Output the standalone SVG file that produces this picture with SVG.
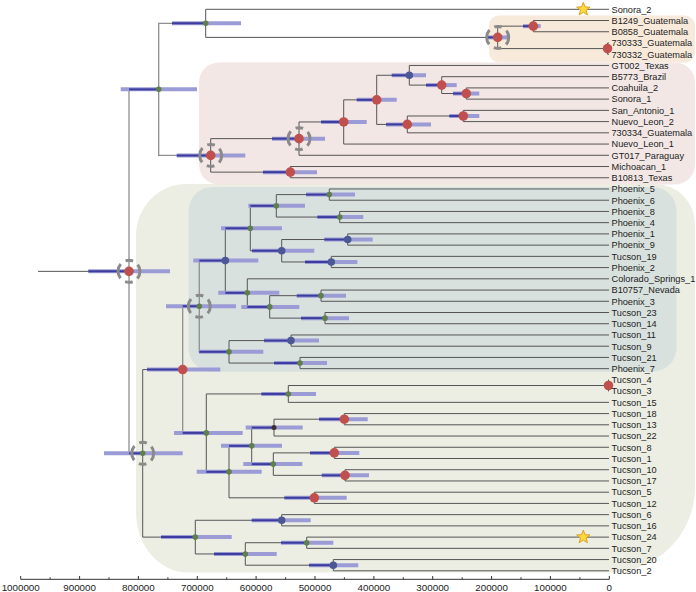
<svg xmlns="http://www.w3.org/2000/svg" width="696" height="592" viewBox="0 0 696 592">
<style>
.br{fill:none;stroke:#555;stroke-width:1}
.brl{fill:none;stroke:#8f8f8f;stroke-width:1.3}
.hl{fill:none;stroke:#9b9bd6;stroke-width:4}
.hd{fill:none;stroke:#3c3c9e;stroke-width:2}
.nr{fill:#c0504d}
.ng{fill:#5f7f4b}
.nb{fill:#4c5896}
.nd{fill:#3b2f2f}
.dc{fill:none;stroke:#8a8a8a;stroke-width:3;stroke-dasharray:15.36 5.76 7.68 5.76;stroke-dashoffset:7.68}
text{font-family:"Liberation Sans",Arial,sans-serif;font-size:9.2px;fill:#1c1c1c}
.ax{font-size:9.8px;text-anchor:middle}
.star{fill:#ffd93a;stroke:#d89a1c;stroke-width:0.9}
</style>
<defs>
<polygon id="star" points="0,-7 1.76,-2.43 6.66,-2.16 2.85,0.93 4.11,5.66 0,3 -4.11,5.66 -2.85,0.93 -6.66,-2.16 -1.76,-2.43"/>
</defs>
<rect width="696" height="592" fill="#ffffff"/>
<g id="clades">
<path id="clade-green" fill="#eceee3" d="M186,184H655A40,40 0 0 1 695,224V487.5A85,85 0 0 1 610,572.5H188A52,60 0 0 1 136,512.5V236A50,52 0 0 1 186,184Z"/>
<rect id="clade-phoenix" x="188.5" y="187" width="488" height="184.7" rx="24" fill="#d9e1de"/>
<rect id="clade-pink" x="199" y="62.5" width="496" height="122" rx="20" fill="#f2e7e5"/>
<rect id="clade-orange" x="489" y="15.5" width="206" height="47" rx="10" fill="#f8eadb"/>
</g>
<g id="connectors">
<path class="br" d="M38,271.35H129"/>
<path class="brl" d="M158.7,89.36H129V453.34H142.7"/>
<path class="brl" d="M205.7,23.34H158.7V155.38H210.7"/>
<path class="brl" d="M199.3,306.2H182.7V432.89H206.3"/>
<path class="brl" d="M225.3,260.58H199.3V351.82H229"/>
<path class="br" d="M609,9.3H205.7V37.38H497.7"/>
<path class="br" d="M533.3,26.15H497.7V48.6H607.5"/>
<path class="br" d="M609,20.53H533.3V31.76H609"/>
<path class="br" d="M609,42.99H607.5V54.22H609"/>
<path class="br" d="M299,138.63H210.7V172.14H290.3"/>
<path class="br" d="M343.7,121.96H299V155.29H609"/>
<path class="br" d="M376.7,99.85H343.7V144.06H609"/>
<path class="br" d="M409.3,75.28H376.7V124.41H407.3"/>
<path class="br" d="M609,65.45H409.3V85.1H441.7"/>
<path class="br" d="M609,76.68H441.7V93.53H466.3"/>
<path class="br" d="M609,87.91H466.3V99.14H609"/>
<path class="br" d="M463.3,115.99H407.3V132.83H609"/>
<path class="br" d="M609,110.37H463.3V121.6H609"/>
<path class="br" d="M609,166.52H290.3V177.75H609"/>
<path class="br" d="M182.7,369.55H142.7V537.12H195.3"/>
<path class="br" d="M250.3,228.29H225.3V292.86H247.3"/>
<path class="br" d="M276.3,205.83H250.3V250.75H281.7"/>
<path class="br" d="M329.3,194.6H276.3V217.06H339.7"/>
<path class="br" d="M609,188.98H329.3V200.21H609"/>
<path class="br" d="M609,211.44H339.7V222.67H609"/>
<path class="br" d="M347.7,239.52H281.7V261.98H331.3"/>
<path class="br" d="M609,233.9H347.7V245.13H609"/>
<path class="br" d="M609,256.36H331.3V267.59H609"/>
<path class="br" d="M609,278.82H247.3V306.9H269.7"/>
<path class="br" d="M321,295.67H269.7V318.13H325"/>
<path class="br" d="M609,290.05H321V301.28H609"/>
<path class="br" d="M609,312.51H325V323.74H609"/>
<path class="br" d="M291,340.59H229V363.05H300"/>
<path class="br" d="M609,334.97H291V346.2H609"/>
<path class="br" d="M609,357.43H300V368.66H609"/>
<path class="br" d="M288.3,393.93H206.3V471.84H229"/>
<path class="br" d="M608.5,385.5H288.3V402.35H609"/>
<path class="br" d="M609,379.89H608.5V391.12H609"/>
<path class="br" d="M251.7,445.87H229V497.8H314.3"/>
<path class="br" d="M274,427.62H251.7V464.12H273.3"/>
<path class="br" d="M344.3,419.2H274V436.04H609"/>
<path class="br" d="M609,413.58H344.3V424.81H609"/>
<path class="br" d="M334.3,452.89H273.3V475.35H345"/>
<path class="br" d="M609,447.27H334.3V458.5H609"/>
<path class="br" d="M609,469.73H345V480.96H609"/>
<path class="br" d="M609,492.19H314.3V503.42H609"/>
<path class="br" d="M281.7,520.27H195.3V553.96H245.3"/>
<path class="br" d="M609,514.65H281.7V525.88H609"/>
<path class="br" d="M306.7,542.73H245.3V565.19H333.3"/>
<path class="br" d="M609,537.11H306.7V548.34H609"/>
<path class="br" d="M609,559.57H333.3V570.8H609"/>
</g>
<g id="nodes">
<g id="n-G1"><path class="hl" d="M523,26.15H540.7"/><path class="hd" d="M523,26.15H533.3"/><circle class="nr" cx="533.3" cy="26.15" r="4.8"/></g>
<g id="n-G2"><circle class="nr" cx="607.5" cy="48.6" r="4.8"/></g>
<g id="n-G"><path class="hl" d="M486.7,37.38H508.3"/><path class="hd" d="M486.7,37.38H497.7"/><circle class="nr" cx="497.7" cy="37.38" r="4.8"/><circle class="dc" cx="497.7" cy="37.38" r="11"/></g>
<g id="n-A"><path class="hl" d="M172,23.34H241"/><path class="hd" d="M172,23.34H205.7"/><circle class="ng" cx="205.7" cy="23.34" r="2.8"/></g>
<g id="n-B"><path class="hl" d="M120.7,89.36H197"/><path class="hd" d="M129,89.36H158.7"/><circle class="ng" cx="158.7" cy="89.36" r="2.8"/></g>
<g id="n-U"><path class="hl" d="M391.7,75.28H426"/><path class="hd" d="M391.7,75.28H409.3"/><circle class="nb" cx="409.3" cy="75.28" r="3.8"/></g>
<g id="n-W"><path class="hl" d="M426,85.1H456.7"/><path class="hd" d="M426,85.1H441.7"/><circle class="nr" cx="441.7" cy="85.1" r="4.8"/></g>
<g id="n-X"><path class="hl" d="M453,93.53H479.3"/><path class="hd" d="M453,93.53H466.3"/><circle class="nr" cx="466.3" cy="93.53" r="4.8"/></g>
<g id="n-T"><path class="hl" d="M356.7,99.85H396.7"/><path class="hd" d="M356.7,99.85H376.7"/><circle class="nr" cx="376.7" cy="99.85" r="4.8"/></g>
<g id="n-V"><path class="hl" d="M386,124.41H431"/><path class="hd" d="M386,124.41H407.3"/><circle class="nr" cx="407.3" cy="124.41" r="4.8"/></g>
<g id="n-Y"><path class="hl" d="M449.3,115.99H479.3"/><path class="hd" d="M449.3,115.99H463.3"/><circle class="nr" cx="463.3" cy="115.99" r="4.8"/></g>
<g id="n-S"><path class="hl" d="M321,121.96H366.7"/><path class="hd" d="M321,121.96H343.7"/><circle class="nr" cx="343.7" cy="121.96" r="4.8"/></g>
<g id="n-Q"><path class="hl" d="M272,138.63H325"/><path class="hd" d="M272,138.63H299"/><circle class="nr" cx="299" cy="138.63" r="4.8"/><circle class="dc" cx="299" cy="138.63" r="11"/></g>
<g id="n-R"><path class="hl" d="M263,172.14H317"/><path class="hd" d="M263,172.14H290.3"/><circle class="nr" cx="290.3" cy="172.14" r="4.8"/></g>
<g id="n-P"><path class="hl" d="M176.7,155.38H245.3"/><path class="hd" d="M176.7,155.38H210.7"/><circle class="nr" cx="210.7" cy="155.38" r="4.8"/><circle class="dc" cx="210.7" cy="155.38" r="11"/></g>
<g id="n-root"><path class="hl" d="M88.3,271.35H170"/><path class="hd" d="M88.3,271.35H129"/><circle class="nr" cx="129" cy="271.35" r="4.8"/><circle class="dc" cx="129" cy="271.35" r="11"/></g>
<g id="n-D"><path class="hl" d="M104,453.34H182.7"/><path class="hd" d="M129,453.34H142.7"/><circle class="ng" cx="142.7" cy="453.34" r="2.8"/><circle class="dc" cx="142.7" cy="453.34" r="11"/></g>
<g id="n-E"><path class="hl" d="M147,369.55H220.3"/><path class="hd" d="M147,369.55H182.7"/><circle class="nr" cx="182.7" cy="369.55" r="4.8"/></g>
<g id="n-H"><path class="hl" d="M166,306.2H236"/><path class="hd" d="M182.7,306.2H199.3"/><circle class="ng" cx="199.3" cy="306.2" r="2.8"/><circle class="dc" cx="199.3" cy="306.2" r="11"/></g>
<g id="n-J"><path class="hl" d="M193.3,260.58H258.3"/><path class="hd" d="M199.3,260.58H225.3"/><circle class="nb" cx="225.3" cy="260.58" r="3.8"/></g>
<g id="n-L"><path class="hl" d="M221,228.29H282"/><path class="hd" d="M225.3,228.29H250.3"/><circle class="ng" cx="250.3" cy="228.29" r="2.8"/></g>
<g id="n-N"><path class="hl" d="M248.3,205.83H305"/><path class="hd" d="M250.3,205.83H276.3"/><circle class="ng" cx="276.3" cy="205.83" r="2.8"/></g>
<g id="n-N1"><path class="hl" d="M306,194.6H355"/><path class="hd" d="M306,194.6H329.3"/><circle class="ng" cx="329.3" cy="194.6" r="2.8"/></g>
<g id="n-N2"><path class="hl" d="M317.3,217.06H363.3"/><path class="hd" d="M317.3,217.06H339.7"/><circle class="ng" cx="339.7" cy="217.06" r="2.8"/></g>
<g id="n-O"><path class="hl" d="M252,250.75H314.3"/><path class="hd" d="M252,250.75H281.7"/><circle class="nb" cx="281.7" cy="250.75" r="3.8"/></g>
<g id="n-O1"><path class="hl" d="M324.3,239.52H372.7"/><path class="hd" d="M324.3,239.52H347.7"/><circle class="nb" cx="347.7" cy="239.52" r="3.8"/></g>
<g id="n-O2"><path class="hl" d="M305,261.98H357.3"/><path class="hd" d="M305,261.98H331.3"/><circle class="nb" cx="331.3" cy="261.98" r="3.8"/></g>
<g id="n-M"><path class="hl" d="M218.3,292.86H279.3"/><path class="hd" d="M225.3,292.86H247.3"/><circle class="ng" cx="247.3" cy="292.86" r="2.8"/></g>
<g id="n-M2"><path class="hl" d="M241.3,306.9H299.3"/><path class="hd" d="M247.3,306.9H269.7"/><circle class="ng" cx="269.7" cy="306.9" r="2.8"/></g>
<g id="n-M3"><path class="hl" d="M296.7,295.67H346"/><path class="hd" d="M296.7,295.67H321"/><circle class="ng" cx="321" cy="295.67" r="2.8"/></g>
<g id="n-M4"><path class="hl" d="M301,318.13H349"/><path class="hd" d="M301,318.13H325"/><circle class="ng" cx="325" cy="318.13" r="2.8"/></g>
<g id="n-K"><path class="hl" d="M199,351.82H263.3"/><path class="hd" d="M199.3,351.82H229"/><circle class="ng" cx="229" cy="351.82" r="2.8"/></g>
<g id="n-K1"><path class="hl" d="M264,340.59H319"/><path class="hd" d="M264,340.59H291"/><circle class="nb" cx="291" cy="340.59" r="3.8"/></g>
<g id="n-K2"><path class="hl" d="M274,363.05H327"/><path class="hd" d="M274,363.05H300"/><circle class="ng" cx="300" cy="363.05" r="2.8"/></g>
<g id="n-I"><path class="hl" d="M174,432.89H242.7"/><path class="hd" d="M182.7,432.89H206.3"/><circle class="ng" cx="206.3" cy="432.89" r="2.8"/></g>
<g id="n-I1"><path class="hl" d="M261.3,393.93H316"/><path class="hd" d="M261.3,393.93H288.3"/><circle class="ng" cx="288.3" cy="393.93" r="2.8"/></g>
<g id="n-Z"><circle class="nr" cx="608.5" cy="385.5" r="4.8"/></g>
<g id="n-I2"><path class="hl" d="M196.7,471.84H261.7"/><path class="hd" d="M206.3,471.84H229"/><circle class="ng" cx="229" cy="471.84" r="2.8"/></g>
<g id="n-I2a"><path class="hl" d="M221,445.87H282"/><path class="hd" d="M229,445.87H251.7"/><circle class="ng" cx="251.7" cy="445.87" r="2.8"/></g>
<g id="n-I2a1"><path class="hl" d="M245.7,427.62H302.7"/><path class="hd" d="M251.7,427.62H274"/><circle class="nd" cx="274" cy="427.62" r="2.5"/></g>
<g id="n-RA"><path class="hl" d="M319,419.2H367.7"/><path class="hd" d="M319,419.2H344.3"/><circle class="nr" cx="344.3" cy="419.2" r="4.8"/></g>
<g id="n-I2a2"><path class="hl" d="M243.3,464.12H302.3"/><path class="hd" d="M251.7,464.12H273.3"/><circle class="ng" cx="273.3" cy="464.12" r="2.8"/></g>
<g id="n-RB"><path class="hl" d="M310,452.89H359.3"/><path class="hd" d="M310,452.89H334.3"/><circle class="nr" cx="334.3" cy="452.89" r="4.8"/></g>
<g id="n-RC"><path class="hl" d="M321.7,475.35H369"/><path class="hd" d="M321.7,475.35H345"/><circle class="nr" cx="345" cy="475.35" r="4.8"/></g>
<g id="n-I2b"><path class="hl" d="M284.3,497.8H346.7"/><path class="hd" d="M284.3,497.8H314.3"/><circle class="nr" cx="314.3" cy="497.8" r="4.8"/></g>
<g id="n-F"><path class="hl" d="M161,537.12H231.7"/><path class="hd" d="M161,537.12H195.3"/><circle class="ng" cx="195.3" cy="537.12" r="2.8"/></g>
<g id="n-F1"><path class="hl" d="M251.7,520.27H310.7"/><path class="hd" d="M251.7,520.27H281.7"/><circle class="nb" cx="281.7" cy="520.27" r="3.8"/></g>
<g id="n-F2"><path class="hl" d="M214,553.96H276.7"/><path class="hd" d="M214,553.96H245.3"/><circle class="ng" cx="245.3" cy="553.96" r="2.8"/></g>
<g id="n-F2a"><path class="hl" d="M281,542.73H333.3"/><path class="hd" d="M281,542.73H306.7"/><circle class="ng" cx="306.7" cy="542.73" r="2.8"/></g>
<g id="n-F2b"><path class="hl" d="M309,565.19H358.3"/><path class="hd" d="M309,565.19H333.3"/><circle class="nb" cx="333.3" cy="565.19" r="3.8"/></g>
</g>
<g id="stars">
<use href="#star" class="star" x="583.3" y="9.3"/>
<use href="#star" class="star" x="583.3" y="537.11"/>
</g>
<g id="tips">
<g id="t1"><text x="611.5" y="12.6">Sonora_2</text></g>
<g id="t2"><text x="611.5" y="23.83">B1249_Guatemala</text></g>
<g id="t3"><text x="611.5" y="35.06">B0858_Guatemala</text></g>
<g id="t4"><text x="611.5" y="46.29">730333_Guatemala</text></g>
<g id="t5"><text x="611.5" y="57.52">730332_Guatemala</text></g>
<g id="t6"><text x="611.5" y="68.75">GT002_Texas</text></g>
<g id="t7"><text x="611.5" y="79.98">B5773_Brazil</text></g>
<g id="t8"><text x="611.5" y="91.21">Coahuila_2</text></g>
<g id="t9"><text x="611.5" y="102.44">Sonora_1</text></g>
<g id="t10"><text x="611.5" y="113.67">San_Antonio_1</text></g>
<g id="t11"><text x="611.5" y="124.9">Nuevo_Leon_2</text></g>
<g id="t12"><text x="611.5" y="136.13">730334_Guatemala</text></g>
<g id="t13"><text x="611.5" y="147.36">Nuevo_Leon_1</text></g>
<g id="t14"><text x="611.5" y="158.59">GT017_Paraguay</text></g>
<g id="t15"><text x="611.5" y="169.82">Michoacan_1</text></g>
<g id="t16"><text x="611.5" y="181.05">B10813_Texas</text></g>
<g id="t17"><text x="611.5" y="192.28">Phoenix_5</text></g>
<g id="t18"><text x="611.5" y="203.51">Phoenix_6</text></g>
<g id="t19"><text x="611.5" y="214.74">Phoenix_8</text></g>
<g id="t20"><text x="611.5" y="225.97">Phoenix_4</text></g>
<g id="t21"><text x="611.5" y="237.2">Phoenix_1</text></g>
<g id="t22"><text x="611.5" y="248.43">Phoenix_9</text></g>
<g id="t23"><text x="611.5" y="259.66">Tucson_19</text></g>
<g id="t24"><text x="611.5" y="270.89">Phoenix_2</text></g>
<g id="t25"><text x="611.5" y="282.12">Colorado_Springs_1</text></g>
<g id="t26"><text x="611.5" y="293.35">B10757_Nevada</text></g>
<g id="t27"><text x="611.5" y="304.58">Phoenix_3</text></g>
<g id="t28"><text x="611.5" y="315.81">Tucson_23</text></g>
<g id="t29"><text x="611.5" y="327.04">Tucson_14</text></g>
<g id="t30"><text x="611.5" y="338.27">Tucson_11</text></g>
<g id="t31"><text x="611.5" y="349.5">Tucson_9</text></g>
<g id="t32"><text x="611.5" y="360.73">Tucson_21</text></g>
<g id="t33"><text x="611.5" y="371.96">Phoenix_7</text></g>
<g id="t34"><text x="611.5" y="383.19">Tucson_4</text></g>
<g id="t35"><text x="611.5" y="394.42">Tucson_3</text></g>
<g id="t36"><text x="611.5" y="405.65">Tucson_15</text></g>
<g id="t37"><text x="611.5" y="416.88">Tucson_18</text></g>
<g id="t38"><text x="611.5" y="428.11">Tucson_13</text></g>
<g id="t39"><text x="611.5" y="439.34">Tucson_22</text></g>
<g id="t40"><text x="611.5" y="450.57">Tucson_8</text></g>
<g id="t41"><text x="611.5" y="461.8">Tucson_1</text></g>
<g id="t42"><text x="611.5" y="473.03">Tucson_10</text></g>
<g id="t43"><text x="611.5" y="484.26">Tucson_17</text></g>
<g id="t44"><text x="611.5" y="495.49">Tucson_5</text></g>
<g id="t45"><text x="611.5" y="506.72">Tucson_12</text></g>
<g id="t46"><text x="611.5" y="517.95">Tucson_6</text></g>
<g id="t47"><text x="611.5" y="529.18">Tucson_16</text></g>
<g id="t48"><text x="611.5" y="540.41">Tucson_24</text></g>
<g id="t49"><text x="611.5" y="551.64">Tucson_7</text></g>
<g id="t50"><text x="611.5" y="562.87">Tucson_20</text></g>
<g id="t51"><text x="611.5" y="574.1">Tucson_2</text></g>
</g>
<g id="axis">
<path fill="none" stroke="#333" stroke-width="1" d="M20.7,579.3H609.3M20.7,579.3V576M79.6,579.3V576M138.4,579.3V576M197.3,579.3V576M256.1,579.3V576M315,579.3V576M373.9,579.3V576M432.7,579.3V576M491.6,579.3V576M550.4,579.3V576M609.3,579.3V576M50.1,579.3V577.3M109,579.3V577.3M167.9,579.3V577.3M226.7,579.3V577.3M285.6,579.3V577.3M344.4,579.3V577.3M403.3,579.3V577.3M462.2,579.3V577.3M521,579.3V577.3M579.9,579.3V577.3"/>
<text class="ax" x="20.7" y="590.8">1000000</text>
<text class="ax" x="79.6" y="590.8">900000</text>
<text class="ax" x="138.4" y="590.8">800000</text>
<text class="ax" x="197.3" y="590.8">700000</text>
<text class="ax" x="256.1" y="590.8">600000</text>
<text class="ax" x="315" y="590.8">500000</text>
<text class="ax" x="373.9" y="590.8">400000</text>
<text class="ax" x="432.7" y="590.8">300000</text>
<text class="ax" x="491.6" y="590.8">200000</text>
<text class="ax" x="550.4" y="590.8">100000</text>
<text class="ax" x="609.3" y="590.8">0</text>
</g>
</svg>
